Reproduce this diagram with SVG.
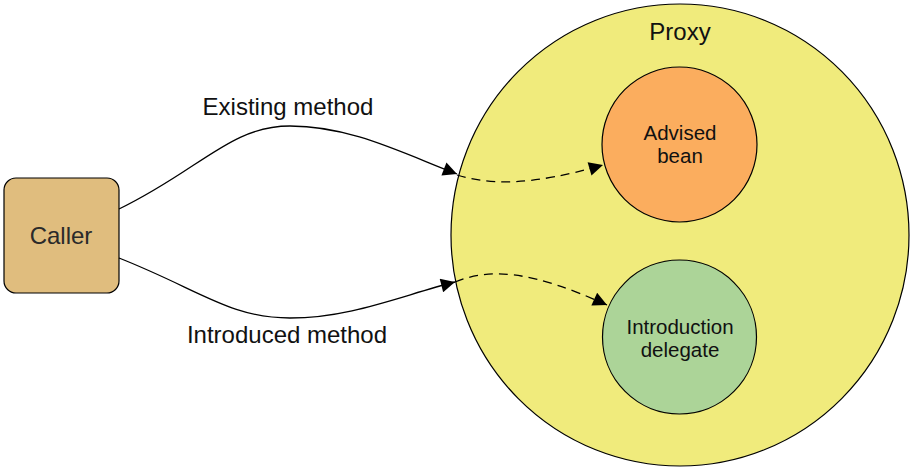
<svg xmlns="http://www.w3.org/2000/svg" width="912" height="471" viewBox="0 0 912 471">
<defs>
<marker id="ah" viewBox="0 0 10 10" refX="10" refY="5" markerWidth="20" markerHeight="14" markerUnits="userSpaceOnUse" orient="auto">
<path d="M0,0 L10,5 L0,10 Z" fill="#000"/>
</marker>
<style>
text{font-family:"Liberation Sans",Arial,sans-serif;fill:#111;text-anchor:middle}
.big{font-size:24px}
.sm{font-size:20.5px}
.node{stroke:#000;stroke-width:1.2}
.conn{fill:none;stroke:#000;stroke-width:1.3}
.dash{stroke-dasharray:9 6}
</style>
</defs>
<g id="proxy">
<ellipse class="node" cx="680" cy="235" rx="229" ry="231" fill="#f0eb7c"/>
<text class="big" x="680" y="40">Proxy</text>
</g>
<g id="caller">
<rect class="node" x="4" y="178" width="115" height="115" rx="12" fill="#e0bd7e"/>
<text class="big" x="61" y="244" style="fill:#2a2a2a">Caller</text>
</g>
<g id="advised">
<circle class="node" cx="679.5" cy="144.5" r="77.5" fill="#fbad5e"/>
<text class="sm" x="680" y="140">Advised</text>
<text class="sm" x="680" y="163">bean</text>
</g>
<g id="delegate">
<circle class="node" cx="679.5" cy="337" r="77" fill="#acd498"/>
<text class="sm" x="680" y="334">Introduction</text>
<text class="sm" x="680" y="357">delegate</text>
</g>
<g id="connectors">
<path class="conn" d="M119,209 C200,170 230,126 290,126 C350,126 400,152 457,174" marker-end="url(#ah)"/>
<path class="conn dash" d="M457,175 C490,185 530,186 603,165" marker-end="url(#ah)"/>
<path class="conn" d="M119,258 C200,290 230,318 290,318 C350,318 400,296 455,282" marker-end="url(#ah)"/>
<path class="conn dash" d="M455,282 C490,268 530,270 607,305" marker-end="url(#ah)"/>
<text class="big" x="288" y="115">Existing method</text>
<text class="big" x="287" y="343">Introduced method</text>
</g>
</svg>
